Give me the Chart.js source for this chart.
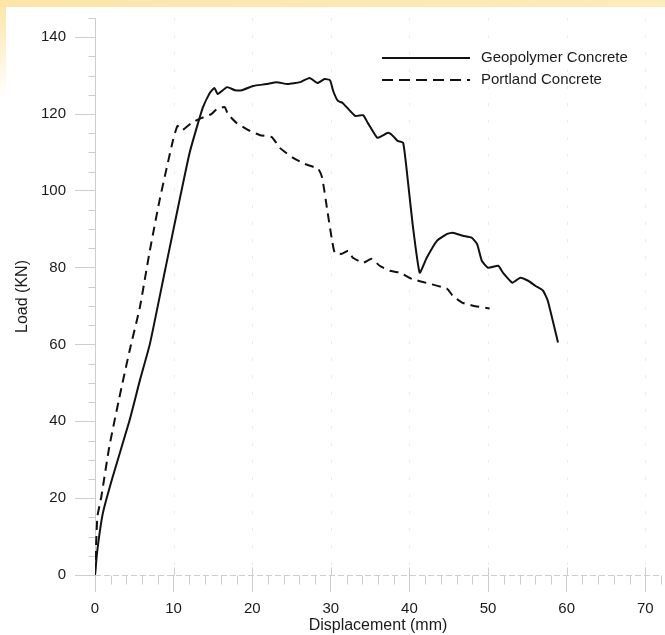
<!DOCTYPE html>
<html>
<head>
<meta charset="utf-8">
<title>Load vs Displacement</title>
<script src="https://cdn.jsdelivr.net/npm/chart.js@4.4.1/dist/chart.umd.min.js"></script>
<style>
    html, body { margin: 0; padding: 0; background: #fff; }
    #wrap { position: relative; width: 665px; height: 635px; overflow: hidden; }
    #bandTop { position: absolute; left: 0; top: 0; width: 665px; height: 7px;
        background: linear-gradient(to right, #fde5a8, #fdebb9); }
    #bandLeft { position: absolute; left: 0; top: 7px; width: 6px; height: 90px;
        background: linear-gradient(to bottom, #fde6ab, #ffffff); }
    canvas { position: absolute; left: 0; top: 0; }
</style>
</head>
<body>
<div id="wrap">
    <div id="bandTop"></div>
    <div id="bandLeft"></div>
    <canvas id="chartCanvas" width="665" height="635"></canvas>
</div>

<script>
// Data (displacement in mm, load in kN)

const geoX = [0, 0.3, 1.0, 2.2, 4.4, 5.7, 7.0, 8.9, 12.0, 13.7, 14.6, 15.2, 15.6, 16.8, 17.8, 18.7,
    20.1, 21.8, 23.1, 24.5, 26.1, 27.3, 28.3, 29.2, 29.9, 30.3, 30.9, 31.5, 33.1, 34.1, 34.7,
    35.9, 36.5, 37.3, 37.9, 38.5, 39.2, 39.8, 40.4, 41.3, 42.2, 43.5, 44.8, 45.5, 46.8, 47.9,
    48.6, 49.2, 50.0, 51.3, 51.9, 53.1, 54.1, 55.1, 56.0, 57.0, 57.6, 58.9];
const geoY = [0, 6.5, 16.1, 25.2, 40.3, 50.6, 60.3, 79.2, 109.6, 121.6, 125.5, 126.8, 125.2, 127.0, 126.2, 126.2,
    127.3, 127.8, 128.3, 127.8, 128.3, 129.4, 128.1, 129.1, 128.8, 126.0, 123.4, 122.9, 119.5, 119.7, 117.7,
    113.8, 114.3, 115.1, 114.3, 113.0, 112.5, 102.6, 91.4, 78.7, 82.6, 87.0, 88.8, 89.1, 88.3, 87.8,
    86.2, 81.8, 80.0, 80.5, 78.7, 76.1, 77.4, 76.6, 75.3, 74.0, 71.4, 60.5];

const portX = [0, 0.3, 0.8, 1.8, 3.1, 4.4, 5.7, 6.9, 8.2, 9.9, 10.5, 11.1, 12.3, 13.6, 14.8, 15.5,
    16.5, 16.9, 18.0, 19.7, 21.0, 22.5, 23.5, 25.2, 26.7, 28.4, 28.9, 29.5, 30.1, 30.5, 31.4,
    32.2, 32.8, 34.1, 35.2, 36.2, 37.5, 38.8, 40.3, 42.6, 44.8, 45.5, 46.7, 48.1, 50.2];
const portY = [0, 15.1, 20.3, 33.2, 46.2, 58.4, 69.6, 83.6, 97.4, 113.0, 116.9, 115.8, 117.7, 119.0, 120.0, 121.3,
    121.8, 120.0, 117.7, 115.6, 114.5, 114.0, 111.2, 108.6, 107.0, 105.7, 103.4, 95.6, 87.8, 83.9, 83.6,
    84.4, 82.6, 81.3, 82.3, 80.5, 79.2, 78.7, 77.1, 75.8, 74.5, 72.7, 70.9, 70.1, 69.4];

const seriesNames = ["Geopolymer Concrete", "Portland Concrete"];
const xTitle = "Displacement (mm)";
const yTitle = "Load (KN)";

const FONT = "'Liberation Sans', Arial, sans-serif";
const AXIS_GREY = "#cdcdcd";


function toPoints(xs, ys) {
    return xs.map((x, i) => ({ x: x, y: ys[i] }));
}


// Minor ticks, dashed x axis line and faint vertical grid
const axisExtras = {
    id: "axisExtras",
    beforeDatasetsDraw(chart) {
        const ctx = chart.ctx;
        const xs = chart.scales.x;
        const ys = chart.scales.y;
        const area = chart.chartArea;

        ctx.save();
        ctx.lineWidth = 1;

        // faint dotted grid at major x ticks
        ctx.strokeStyle = "#ededed";
        ctx.setLineDash([3, 14]);
        for (let v = 10; v <= 70; v += 10) {
            const px = Math.round(xs.getPixelForValue(v)) + 0.5;
            ctx.beginPath();
            ctx.moveTo(px, area.top);
            ctx.lineTo(px, area.bottom);
            ctx.stroke();
        }

        // dashed x axis line
        ctx.strokeStyle = AXIS_GREY;
        ctx.setLineDash([6, 3]);
        const by = Math.round(area.bottom) + 0.5;
        ctx.beginPath();
        ctx.moveTo(area.left, by);
        ctx.lineTo(area.right, by);
        ctx.stroke();
        ctx.setLineDash([]);

        // x ticks: minor every 2, majors poke above the axis
        for (let v = 0; v <= 72; v += 2) {
            const px = Math.round(xs.getPixelForValue(v)) + 0.5;
            ctx.beginPath();
            if (v % 10 === 0) {
                ctx.moveTo(px, by - 8);
                ctx.lineTo(px, by);
            } else {
                ctx.moveTo(px, by);
                ctx.lineTo(px, by + 9);
            }
            ctx.stroke();
        }

        // y minor ticks every 5
        const lx = Math.round(area.left) + 0.5;
        for (let v = 5; v <= 145; v += 5) {
            if (v % 20 === 0) continue;
            const py = Math.round(ys.getPixelForValue(v)) + 0.5;
            ctx.beginPath();
            ctx.moveTo(lx - 7, py);
            ctx.lineTo(lx, py);
            ctx.stroke();
        }

        ctx.restore();
    },

    // legend in the upper right of the plot
    afterDraw(chart) {
        const ctx = chart.ctx;
        const dashes = [[], [11, 6]];
        ctx.save();
        ctx.font = "15px " + FONT;
        ctx.fillStyle = "#1a1a1a";
        ctx.textBaseline = "middle";
        seriesNames.forEach((name, i) => {
            const y = 58 + i * 22;
            ctx.strokeStyle = "#111";
            ctx.lineWidth = 2;
            ctx.setLineDash(dashes[i]);
            ctx.beginPath();
            ctx.moveTo(382, y);
            ctx.lineTo(470, y);
            ctx.stroke();
            ctx.fillText(name, 481, y);
        });
        ctx.restore();
    }
};


const ctx = document.getElementById("chartCanvas").getContext("2d");

new Chart(ctx, {
    type: "scatter",
    data: {
        datasets: [
            {
                label: seriesNames[0],
                data: toPoints(geoX, geoY),
                showLine: true,
                borderColor: "#111",
                borderWidth: 2,
                pointRadius: 0,
                tension: 0.15
            },
            {
                label: seriesNames[1],
                data: toPoints(portX, portY),
                showLine: true,
                borderColor: "#111",
                borderWidth: 2,
                borderDash: [9, 6],
                pointRadius: 0,
                tension: 0.15
            }
        ]
    },
    options: {
        responsive: false,
        animation: false,
        layout: {
            padding: { top: 17, right: 4, left: 0, bottom: 0 }
        },
        plugins: {
            legend: { display: false },
            tooltip: { enabled: false }
        },
        scales: {
            x: {
                type: "linear",
                min: 0,
                max: 72,
                afterFit: s => { s.height = 60; },
                border: { display: false },
                grid: {
                    drawOnChartArea: false,
                    tickLength: 17,
                    tickColor: AXIS_GREY
                },
                ticks: {
                    stepSize: 10,
                    includeBounds: false,
                    padding: 8,
                    color: "#1a1a1a",
                    font: { family: FONT, size: 15 },
                    maxRotation: 0
                },
                title: {
                    display: true,
                    text: xTitle,
                    color: "#1a1a1a",
                    font: { family: FONT, size: 16, lineHeight: 1 },
                    padding: { top: 0, bottom: 1 }
                }
            },
            y: {
                type: "linear",
                min: 0,
                max: 145,
                afterFit: s => { s.width = 95; },
                border: { display: true, color: AXIS_GREY, width: 1 },
                grid: {
                    drawOnChartArea: false,
                    tickLength: 20,
                    tickColor: AXIS_GREY
                },
                ticks: {
                    stepSize: 20,
                    includeBounds: false,
                    padding: 9,
                    color: "#1a1a1a",
                    font: { family: FONT, size: 15 }
                },
                title: {
                    display: true,
                    text: yTitle,
                    color: "#1a1a1a",
                    font: { family: FONT, size: 16, lineHeight: 1 },
                    padding: { top: 15, bottom: 0 }
                }
            }
        }
    },
    plugins: [axisExtras]
});
</script>
</body>
</html>
